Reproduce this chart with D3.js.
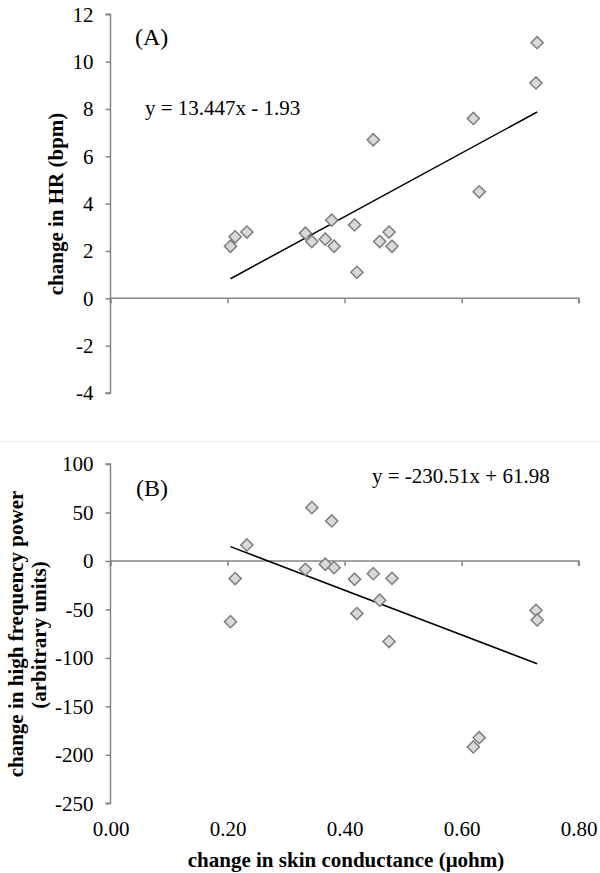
<!DOCTYPE html>
<html>
<head>
<meta charset="utf-8">
<script src="https://cdn.jsdelivr.net/npm/d3@7"></script>
<style>
html,body{margin:0;padding:0;background:#fff;}
svg{display:block;}
text{font-family:"Liberation Serif","Times New Roman",serif;fill:#000;}
</style>
</head>
<body>
<svg id="chart" width="600" height="873"></svg>
<script>
// Data
const skinConductance = [0.205,0.213,0.233,0.333,0.344,0.367,0.378,0.382,0.417,0.421,0.449,0.460,0.476,0.481,0.620,0.630,0.727,0.729];
const hrChange        = [2.2,2.6,2.8,2.75,2.4,2.5,3.3,2.2,3.1,1.1,6.7,2.4,2.8,2.2,7.6,4.5,9.1,10.8];
const hfChange        = [-62.6,-18.2,16.5,-8.6,55,-3.4,41.3,-6.9,-18.9,-54.3,-13.1,-40.5,-83.2,-17.9,-191.9,-182.3,-50.9,-60.9];
const xTicks = [0,0.2,0.4,0.6,0.8];
const yTicksA = [-4,-2,0,2,4,6,8,10,12];
const yTicksB = [-250,-200,-150,-100,-50,0,50,100];
const fitA = {slope:13.447, intercept:-1.93, label:"y = 13.447x - 1.93", tag:"(A)"};
const fitB = {slope:-230.51, intercept:61.98, label:"y = -230.51x + 61.98", tag:"(B)"};

const svg = d3.select("#chart");
const axisColor = "#868686";
const FONT = "Liberation Serif, Times New Roman, serif";

const x = d3.scaleLinear().domain([0,0.8]).range([110.5,578.7]);
const yA = d3.scaleLinear().domain([-4,12]).range([393,14.3]);
const yB = d3.scaleLinear().domain([-250,100]).range([803.3,464]);

// faint separator between the two panels
svg.append("line").attr("x1",0).attr("x2",600).attr("y1",441.5).attr("y2",441.5)
  .attr("stroke","#ececec").attr("stroke-width",1);

function panel(y, yTicks, yVals, fit, showXLabels) {
  const g = svg.append("g");
  // y axis
  const ya = g.append("g").attr("transform",`translate(${x(0)},0)`)
    .call(d3.axisLeft(y).tickValues(yTicks).tickSize(5).tickPadding(12));
  ya.select(".domain").attr("stroke",axisColor).attr("stroke-width",1.5)
    .attr("d",`M-5,${y(yTicks[yTicks.length-1])}H0V${y(yTicks[0])}H-5`);
  ya.selectAll(".tick line").attr("stroke",axisColor).attr("stroke-width",1.5);
  ya.selectAll(".tick text").attr("font-size",21).attr("font-family",FONT).attr("fill","#000")
    .text(d => d<0 ? "-"+Math.abs(d) : d);
  // x axis crossing at y = 0
  const xa = g.append("g").attr("transform",`translate(0,${y(0)})`)
    .call(d3.axisBottom(x).tickValues(xTicks).tickSize(5));
  xa.select(".domain").attr("stroke",axisColor).attr("stroke-width",1.5).attr("d",`M${x(0)},5V0H${x(0.8)}V5`);
  xa.selectAll(".tick line").attr("stroke",axisColor).attr("stroke-width",1.5);
  xa.selectAll(".tick text").remove();
  if (showXLabels) {
    const xl = svg.append("g").attr("transform",`translate(0,${y.range()[0]})`)
      .call(d3.axisBottom(x).tickValues(xTicks).tickSize(0).tickPadding(18).tickFormat(d3.format(".2f")));
    xl.select(".domain").remove();
    xl.selectAll(".tick text").attr("font-size",21).attr("font-family",FONT).attr("fill","#000");
  }
  // linear trend line across data range
  const [xmin, xmax] = d3.extent(skinConductance);
  g.append("line")
    .attr("x1",x(xmin)).attr("y1",y(fit.slope*xmin+fit.intercept))
    .attr("x2",x(xmax)).attr("y2",y(fit.slope*xmax+fit.intercept))
    .attr("stroke","#000").attr("stroke-width",1.5);
  // diamond markers
  const sym = d3.symbol().type(d3.symbolSquare).size(74);
  g.selectAll("path.pt").data(skinConductance.map((v,i)=>[v,yVals[i]])).enter().append("path")
    .attr("class","pt")
    .attr("d",sym)
    .attr("transform",d=>`translate(${x(d[0])},${y(d[1])}) rotate(45)`)
    .attr("fill","#d9d9d9").attr("stroke","#7f7f7f").attr("stroke-width",1.5);
}

panel(yA, yTicksA, hrChange, fitA, false);
panel(yB, yTicksB, hfChange, fitB, true);

// panel tags and equations
svg.append("text").attr("x",135).attr("y",45).attr("font-size",24).text(fitA.tag);
svg.append("text").attr("x",145).attr("y",115).attr("font-size",21).text(fitA.label);
svg.append("text").attr("x",136).attr("y",496).attr("font-size",24).text(fitB.tag);
svg.append("text").attr("x",372).attr("y",483).attr("font-size",21).text(fitB.label);

// axis titles
svg.append("text").attr("transform","translate(63,204) rotate(-90)").attr("text-anchor","middle")
  .attr("font-size",21).attr("font-weight","bold").text("change in HR (bpm)");
svg.append("text").attr("transform","translate(23,634) rotate(-90)").attr("text-anchor","middle")
  .attr("font-size",21).attr("font-weight","bold").text("change in high frequency power");
svg.append("text").attr("transform","translate(46,635) rotate(-90)").attr("text-anchor","middle")
  .attr("font-size",21).attr("font-weight","bold").text("(arbitrary units)");
svg.append("text").attr("x",346).attr("y",867).attr("text-anchor","middle")
  .attr("font-size",21).attr("font-weight","bold").text("change in skin conductance (μohm)");
</script>
</body>
</html>
